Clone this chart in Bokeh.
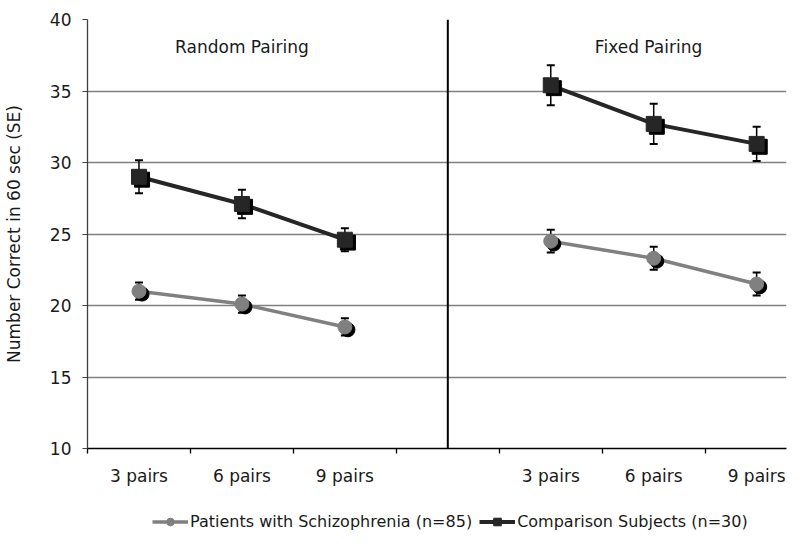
from bokeh.plotting import figure
from bokeh.layouts import column
from bokeh.models import (ColumnDataSource, FixedTicker, Range1d, Whisker, Span,
                          Legend, LegendItem, TeeHead)
from bokeh.transform import dodge
from bokeh.embed import file_html
from bokeh.resources import INLINE
from bokeh.core.properties import value

# ---- data -------------------------------------------------------------
set_sizes = ["3 pairs", "6 pairs", "9 pairs"]
random_slots = [0, 1, 2]          # category slots of the Random Pairing group
fixed_slots = [4, 5, 6]           # category slots of the Fixed Pairing group (slot 3 empty)

patients_random = [21.0, 20.1, 18.5]
patients_random_se = [0.6, 0.6, 0.6]
patients_fixed = [24.5, 23.3, 21.5]
patients_fixed_se = [0.8, 0.8, 0.8]

comparison_random = [29.0, 27.1, 24.6]
comparison_random_se = [1.15, 1.0, 0.8]
comparison_fixed = [35.4, 32.7, 31.3]
comparison_fixed_se = [1.4, 1.4, 1.2]

series_labels = ["Patients with Schizophrenia (n=85)", "Comparison Subjects (n=30)"]
y_ticks = [10, 15, 20, 25, 30, 35, 40]
FONT = "DejaVu Sans"
TXT = "#1a1a1a"
GREY = "#808080"
DARK = "#262626"

p = figure(frame_width=699, frame_height=429, output_backend="svg", toolbar_location=None,
           x_range=Range1d(0, 6.79), y_range=Range1d(10, 40),
           min_border_left=83, min_border_right=2, min_border_top=19,
           min_border_bottom=44)
p.outline_line_color = None
p.background_fill_color = "white"
p.border_fill_color = "white"

# grid
p.xgrid.visible = False
p.ygrid.ticker = FixedTicker(ticks=y_ticks[1:])
p.ygrid.grid_line_color = GREY
p.ygrid.grid_line_width = 1.3

# y axis
p.yaxis.ticker = FixedTicker(ticks=y_ticks)
p.yaxis.axis_label = "Number Correct in 60 sec (SE)"
p.yaxis.axis_label_text_font = FONT
p.yaxis.axis_label_text_font_size = "17px"
p.yaxis.axis_label_text_font_style = "normal"
p.yaxis.axis_label_text_color = TXT
p.yaxis.axis_label_standoff = 23
p.yaxis.major_label_text_font = FONT
p.yaxis.major_label_text_font_size = "17px"
p.yaxis.major_label_text_color = TXT
p.yaxis.major_label_standoff = 11
p.yaxis.major_tick_out = 5
p.yaxis.major_tick_in = 0
p.yaxis.minor_tick_out = 0
p.yaxis.minor_tick_in = 0
p.yaxis.axis_line_color = "#404040"
p.yaxis.axis_line_width = 1.3
p.yaxis.major_tick_line_color = "#404040"

# x axis: labels at slot centres, ticks at slot boundaries
centres = [s + 0.5 for s in random_slots + fixed_slots]
bounds = list(range(0, 7))
p.xaxis.ticker = FixedTicker(ticks=centres, minor_ticks=bounds)
p.xaxis.major_label_overrides = {c: lab for c, lab in zip(centres, set_sizes + set_sizes)}
p.xaxis.major_tick_out = 0
p.xaxis.major_tick_in = 0
p.xaxis.minor_tick_out = 5
p.xaxis.minor_tick_in = 0
p.xaxis.minor_tick_line_color = "black"
p.xaxis.minor_tick_line_width = 1.3
p.xaxis.axis_line_color = "black"
p.xaxis.axis_line_width = 1.3
p.xaxis.major_label_text_font = FONT
p.xaxis.major_label_text_font_size = "17px"
p.xaxis.major_label_text_color = TXT
p.xaxis.major_label_standoff = 12

# divider between the two conditions (empty slot 3 centre)
p.add_layout(Span(location=3.5, dimension="height", line_color="black", line_width=2))

# condition titles
p.text(x=[1.5], y=[38.1], text=["Random Pairing"], text_align="center",
       text_baseline="middle", text_font=value(FONT), text_font_size="17px",
       text_color=TXT)
p.text(x=[5.45], y=[38.1], text=["Fixed Pairing"], text_align="center",
       text_baseline="middle", text_font=value(FONT), text_font_size="17px",
       text_color=TXT)


def series(slots, vals, se):
    return ColumnDataSource(dict(x=[s + 0.5 for s in slots], y=vals,
                                 upper=[v + e for v, e in zip(vals, se)],
                                 lower=[v - e for v, e in zip(vals, se)]))


groups = [
    (0, patients_random, patients_random_se, random_slots, GREY, "circle", 14, 3.5),
    (0, patients_fixed, patients_fixed_se, fixed_slots, GREY, "circle", 14, 3.5),
    (1, comparison_random, comparison_random_se, random_slots, DARK, "square", 15, 4),
    (1, comparison_fixed, comparison_fixed_se, fixed_slots, DARK, "square", 15, 4),
]
legend_sources = {}
for key, vals, se, slots, col, marker, size, lw in groups:
    src = series(slots, vals, se)
    legend_sources.setdefault(key, (src, col, marker, lw))
    p.add_layout(Whisker(base="x", upper="upper", lower="lower", source=src,
                         line_color="black", line_width=1.5,
                         upper_head=TeeHead(size=8, line_color="black", line_width=2),
                         lower_head=TeeHead(size=8, line_color="black", line_width=2)))
    p.line("x", "y", source=src, line_color=col, line_width=lw)
    p.scatter(x=dodge("x", 0.03), y=dodge("y", -0.2), source=src, marker=marker,
              size=size, fill_color="black", line_color="black")
    p.scatter("x", "y", source=src, marker=marker, size=size,
              fill_color=col, line_color=col)

# ---- legend strip under the chart (series drawn out of view, legend only) ----
lf = figure(width=784, height=40, output_backend="svg", toolbar_location=None,
            x_range=Range1d(0, 1), y_range=Range1d(0, 1),
            min_border=0)
lf.axis.visible = False
lf.grid.visible = False
lf.outline_line_color = None
lf.border_fill_color = "white"

items = []
for key in (0, 1):
    src, col, marker, lw = legend_sources[key]
    r1 = lf.line("x", "y", source=src, line_color=col, line_width=lw)
    r2 = lf.scatter("x", "y", source=src, marker=marker, fill_color=col, line_color=col)
    items.append(LegendItem(label=series_labels[key], renderers=[r1, r2]))

legend = Legend(items=items, orientation="horizontal", location=(65, 1))
legend.label_text_font = FONT
legend.label_text_font_size = "16px"
legend.label_text_color = TXT
legend.glyph_width = 36
legend.glyph_height = 19
legend.label_standoff = 2
legend.spacing = 7
legend.padding = 0
legend.margin = 0
legend.border_line_alpha = 0
legend.background_fill_alpha = 0
lf.add_layout(legend)

layout = column(p, lf, spacing=0)
open("out.html", "w").write(file_html(layout, INLINE))
